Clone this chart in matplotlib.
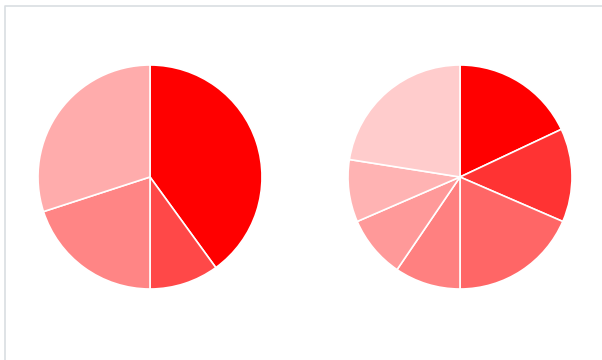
import matplotlib
matplotlib.use("Agg")
import matplotlib.pyplot as plt
from matplotlib.lines import Line2D

W, H = 602, 360

# Slice shares, clockwise from 12 o'clock
left_values = [40, 10, 20, 30]
left_colors = ["#ff0000", "#ff4848", "#ff8585", "#ffacac"]

right_values = [18, 13.5, 18.5, 9.5, 9, 9, 22.5]
right_colors = ["#ff0000", "#ff3333", "#ff6666", "#ff8080", "#ff9999", "#ffb3b3", "#ffcccc"]

fig = plt.figure(figsize=(W / 100, H / 100), dpi=100)
fig.patch.set_facecolor("white")

# container frame (top and left edges)
frame_color = "#d9dee2"
fig.add_artist(Line2D([5 / W, 5 / W, 1.0], [0.0, 1 - 6 / H, 1 - 6 / H],
                      transform=fig.transFigure, color=frame_color, lw=1.2))


def pie_axes(cx, cy, r):
    ax = fig.add_axes([(cx - r) / W, 1 - (cy + r) / H, 2 * r / W, 2 * r / H])
    ax.set_xlim(-1, 1)
    ax.set_ylim(-1, 1)
    ax.axis("off")
    return ax


for (cx, cy), vals, cols in [((150, 177), left_values, left_colors),
                             ((460, 177), right_values, right_colors)]:
    ax = pie_axes(cx, cy, 112)
    ax.pie(vals, colors=cols, startangle=90, counterclock=False, radius=1,
           wedgeprops=dict(edgecolor="white", linewidth=1.2))
    ax.set_xlim(-1, 1)
    ax.set_ylim(-1, 1)

fig.savefig("out.png", dpi=100, facecolor="white")
